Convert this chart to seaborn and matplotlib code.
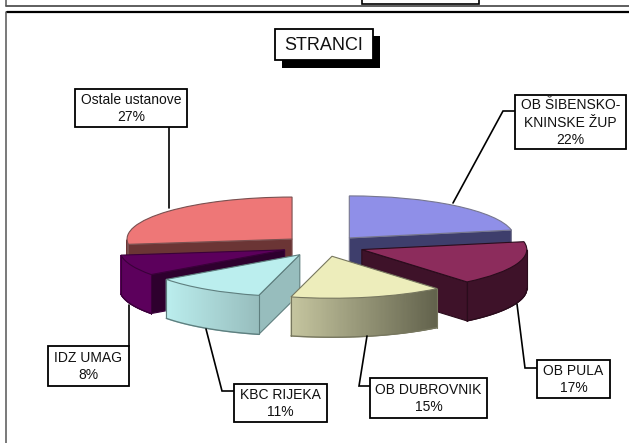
import numpy as np
import matplotlib
matplotlib.use("Agg")
import matplotlib.pyplot as plt
import seaborn as sns
from matplotlib.patches import Rectangle

# =========================================================
# DATA
# =========================================================

categories = ["OB ŠIBENSKO-\nKNINSKE ŽUP", "OB PULA", "OB DUBROVNIK",
              "KBC RIJEKA", "IDZ UMAG", "Ostale ustanove"]
values = [22, 17, 15, 11, 8, 27]
title = "STRANCI"

# =========================================================
# STYLE
# =========================================================

W, H = 629, 443
CX, CY = 323, 246      # pie centre in pixels
RX, RY = 165, 42       # pie radius in pixels after tilt
DEPTH = 39 / RY        # height of the walls in data units
EXPLODE = 0.25

top_colors = ["#8F8FE8", "#8C2C5C", "#EDEDBB", "#BBEEEE", "#5C005C", "#EE7777"]
wall_left = ["#3E3E6C", "#3E1229", "#C6C6A0", "#BBEEEE", "#5C005C", "#6B3535"]
wall_right = ["#3E3E6C", "#3E1229", "#62624C", "#97BDBD", "#5C005C", "#6B3535"]
side_colors = ["#3E3E6C", "#3E1229", "#8A8A6C", "#97BDBD", "#2E002E", "#6B3535"]
edge_colors = ["#77778F", "#2A0C1C", "#77775F", "#5F7F7F", "#3A003A", "#7A5050"]
draw_order = [5, 0, 4, 1, 3, 2]   # back to front

# box = left, top, right, bottom / leader = line from box to pie, pixels
boxes = [(515, 95, 626, 149), (537, 360, 610, 398), (370, 378, 487, 418),
         (234, 384, 327, 422), (48, 346, 129, 386), (75, 89, 187, 127)]
leaders = [[(515, 111), (503, 111), (453, 203)],
           [(537, 368), (525, 368), (517, 304)],
           [(370, 386), (359, 386), (367, 336)],
           [(234, 391), (222, 391), (206, 329)],
           [(129, 346), (129, 305)],
           [(169, 127), (169, 208)]]

sns.set_theme(style="white")
plt.rcParams["font.family"] = ["Liberation Sans", "DejaVu Sans"]
palette = sns.color_palette(top_colors)

fig = plt.figure(figsize=(W / 100, H / 100), dpi=100, facecolor="white")

# overlay in pixel coordinates, for the frame, title and labels
over = fig.add_axes([0, 0, 1, 1], zorder=1)
over.set_xlim(0, W)
over.set_ylim(H, 0)
over.axis("off")
over.patch.set_alpha(0)

# =========================================================
# PIE
# =========================================================

ax = fig.add_axes([0, 0, 1, 1], zorder=2)
ax.patch.set_alpha(0)
wedges, _ = ax.pie(values, colors=palette, startangle=90, counterclock=False,
                   explode=[EXPLODE] * len(values), radius=1)
ax.set_aspect("auto")
ax.set_xlim((0 - CX) / RX, (W - CX) / RX)
ax.set_ylim((CY - H) / RY, CY / RY)
ax.axis("off")


def blend(c1, c2, t):
    a = np.array(matplotlib.colors.to_rgb(c1))
    b = np.array(matplotlib.colors.to_rgb(c2))
    return tuple(a + (b - a) * t)


for z, i in enumerate(draw_order):
    w = wedges[i]
    base = 10 * (z + 1)
    x0, y0 = w.center
    t1, t2 = w.theta1, w.theta2

    # flat faces along the cuts, only those turned to the viewer
    for ang, show in ((t1, np.cos(np.radians(t1)) > 0.01),
                      (t2, np.cos(np.radians(t2)) < -0.01)):
        if show:
            a = np.radians(ang)
            ex, ey = x0 + np.cos(a), y0 + np.sin(a)
            ax.fill([x0, ex, ex, x0], [y0, ey, ey - DEPTH, y0 - DEPTH],
                    facecolor=side_colors[i], edgecolor=edge_colors[i],
                    linewidth=0.8, zorder=base)

    # outer wall, part of the rim below the horizon
    th = np.radians(np.linspace(t1, t2, 120))
    th = th[np.sin(th) <= 0]
    if len(th) > 1:
        xs = x0 + np.cos(th)
        ys = y0 + np.sin(th)
        xmin, xmax = xs.min(), xs.max()
        for k in range(len(th) - 1):
            col = blend(wall_left[i], wall_right[i],
                        (xs[k] - xmin) / max(xmax - xmin, 1e-6))
            ax.fill([xs[k], xs[k + 1], xs[k + 1], xs[k]],
                    [ys[k], ys[k + 1], ys[k + 1] - DEPTH, ys[k] - DEPTH],
                    facecolor=col, edgecolor=col, linewidth=0.8, zorder=base + 1)
        ax.plot(xs, ys - DEPTH, color=edge_colors[i], lw=1.0, zorder=base + 2)
        ax.plot([xs[0], xs[0]], [ys[0], ys[0] - DEPTH], color=edge_colors[i], lw=0.8, zorder=base + 2)
        ax.plot([xs[-1], xs[-1]], [ys[-1], ys[-1] - DEPTH], color=edge_colors[i], lw=0.8, zorder=base + 2)

    w.set_zorder(base + 3)
    w.set_edgecolor(edge_colors[i])
    w.set_linewidth(0.8)

# =========================================================
# FRAME, TITLE, LABELS
# =========================================================

over.plot([6, W], [6, 6], color="#333333", lw=1.1)
over.plot([7, W], [12, 12], color="black", lw=1.6)
over.plot([6, 6], [12, H], color="#555555", lw=1.1)
over.plot([6, 6], [0, 6], color="#555555", lw=1.1)
over.add_patch(Rectangle((362, -5), 117, 9, fc="white", ec="black", lw=1.2))

ax.add_patch(Rectangle((282, 36), 98, 32, fc="black", ec="none", zorder=200,
                       transform=over.transData))
ax.add_patch(Rectangle((275, 29), 98, 31, fc="white", ec="black", lw=1.3, zorder=201,
                       transform=over.transData))
ax.text(324, 45.5, title, ha="center", va="center", fontsize=13, color="#111111", zorder=202,
        transform=over.transData)

for name, val, (l, t, r, b), path in zip(categories, values, boxes, leaders):
    px, py = zip(*path)
    ax.plot(px, py, color="black", lw=1.2, zorder=100, transform=over.transData,
            solid_joinstyle="miter")
    ax.add_patch(Rectangle((l, t), r - l, b - t, fc="white", ec="black", lw=1.3, zorder=201,
                           transform=over.transData))
    ax.text((l + r) / 2, (t + b) / 2 + 0.5, f"{name}\n{val}%", ha="center", va="center",
            fontsize=10, color="#111111", linespacing=1.3, zorder=202, transform=over.transData)

fig.savefig("out.png", dpi=100)
